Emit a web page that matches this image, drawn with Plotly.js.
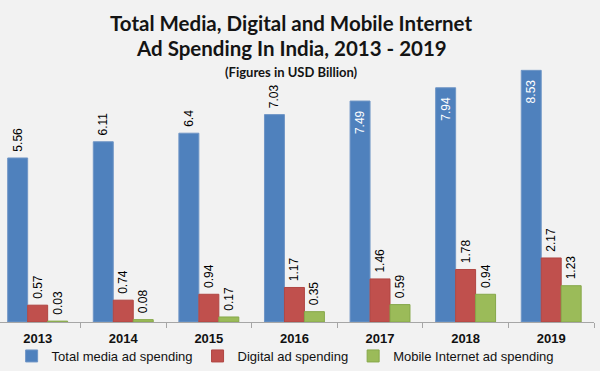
<!DOCTYPE html>
<html>
<head>
<meta charset="utf-8">
<script src="https://cdn.plot.ly/plotly-3.0.1.min.js"></script>
<style>
  html, body { margin: 0; padding: 0; background: #f2f2f2; }
  #chart { width: 600px; height: 371px; }
</style>
</head>
<body>
<div id="chart"></div>
<script>
const years = ['2013', '2014', '2015', '2016', '2017', '2018', '2019'];
const totalMedia = [5.56, 6.11, 6.4, 7.03, 7.49, 7.94, 8.53];
const digital = [0.57, 0.74, 0.94, 1.17, 1.46, 1.78, 2.17];
const mobile = [0.03, 0.08, 0.17, 0.35, 0.59, 0.94, 1.23];
const seriesNames = ['Total media ad spending', 'Digital ad spending', 'Mobile Internet ad spending'];
const titleLines = ['Total Media, Digital and Mobile Internet', 'Ad Spending In India, 2013 - 2019'];
const subtitle = '(Figures in USD Billion)';
const totalLabelPos = ['outside', 'outside', 'outside', 'outside', 'inside', 'inside', 'inside'];

const NB = '\u00a0';
const labelFont = { family: 'Liberation Sans, Arial, sans-serif', size: 12, color: '#000' };

function labelText(v, pos) {
  // spacing pads: outside labels sit a little above the bar, inside labels a little below its top
  return pos === 'inside' ? String(v) + NB + NB : NB + String(v);
}

function barTrace(name, vals, color, lineColor, pos) {
  const positions = pos || vals.map(() => 'outside');
  return {
    type: 'bar',
    name: name,
    x: years,
    y: vals,
    text: vals.map((v, i) => labelText(v, positions[i])),
    textposition: positions,
    textangle: -90,
    insidetextanchor: 'end',
    constraintext: 'none',
    cliponaxis: false,
    insidetextfont: { family: labelFont.family, size: 12, color: '#ffffff' },
    outsidetextfont: labelFont,
    marker: { color: color, line: { color: lineColor, width: 1 } },
    hoverinfo: 'x+y+name'
  };
}

const data = [
  barTrace(seriesNames[0], totalMedia, '#4f81bd', '#7096c6', totalLabelPos),
  barTrace(seriesNames[1], digital, '#c0504d', '#b04643'),
  barTrace(seriesNames[2], mobile, '#9bbb59', '#86a84a')
];

const titleFont = { family: 'Lato, sans-serif', size: 20.5, color: '#141414', weight: 'bold' };

const layout = {
  width: 600,
  height: 371,
  paper_bgcolor: '#f2f2f2',
  plot_bgcolor: '#f2f2f2',
  margin: { l: 0, r: 6, t: 60, b: 49, autoexpand: false },
  barmode: 'group',
  bargap: 0.30,
  bargroupgap: 0,
  showlegend: true,
  annotations: [
    {
      text: titleLines[0],
      xref: 'paper', yref: 'paper', x: 0.49, xanchor: 'center', y: 1.1412, yanchor: 'middle',
      showarrow: false, font: titleFont
    },
    {
      text: titleLines[1],
      xref: 'paper', yref: 'paper', x: 0.49, xanchor: 'center', y: 1.0458, yanchor: 'middle',
      showarrow: false, font: titleFont
    },
    {
      text: subtitle,
      xref: 'paper', yref: 'paper', x: 0.49, xanchor: 'center', y: 0.9523, yanchor: 'middle',
      showarrow: false,
      font: { family: 'Lato, sans-serif', size: 13, color: '#141414', weight: 'bold' }
    }
  ],
  xaxis: {
    type: 'category',
    range: [-0.44, 6.5],
    automargin: false,
    showline: true,
    linecolor: '#a6a6a6',
    linewidth: 1,
    ticks: 'outside',
    tickson: 'boundaries',
    ticklen: 5,
    tickcolor: '#a6a6a6',
    ticklabelstandoff: 4,
    tickfont: { family: 'Liberation Sans, Arial, sans-serif', size: 13, color: '#111', weight: 'bold' },
    showgrid: false,
    zeroline: false,
    fixedrange: true
  },
  yaxis: {
    range: [0, 8.881],
    visible: false,
    automargin: false,
    showgrid: false,
    zeroline: false,
    fixedrange: true
  },
  legend: {
    orientation: 'h',
    xref: 'paper',
    x: 0.48,
    xanchor: 'center',
    yref: 'container',
    y: -0.006,
    yanchor: 'bottom',
    bgcolor: 'rgba(0,0,0,0)',
    font: { family: 'Liberation Sans, Arial, sans-serif', size: 13, color: '#111' },
    itemwidth: 30,
    traceorder: 'normal'
  }
};

Plotly.newPlot('chart', data, layout, { displayModeBar: false, staticPlot: true });
</script>
</body>
</html>
